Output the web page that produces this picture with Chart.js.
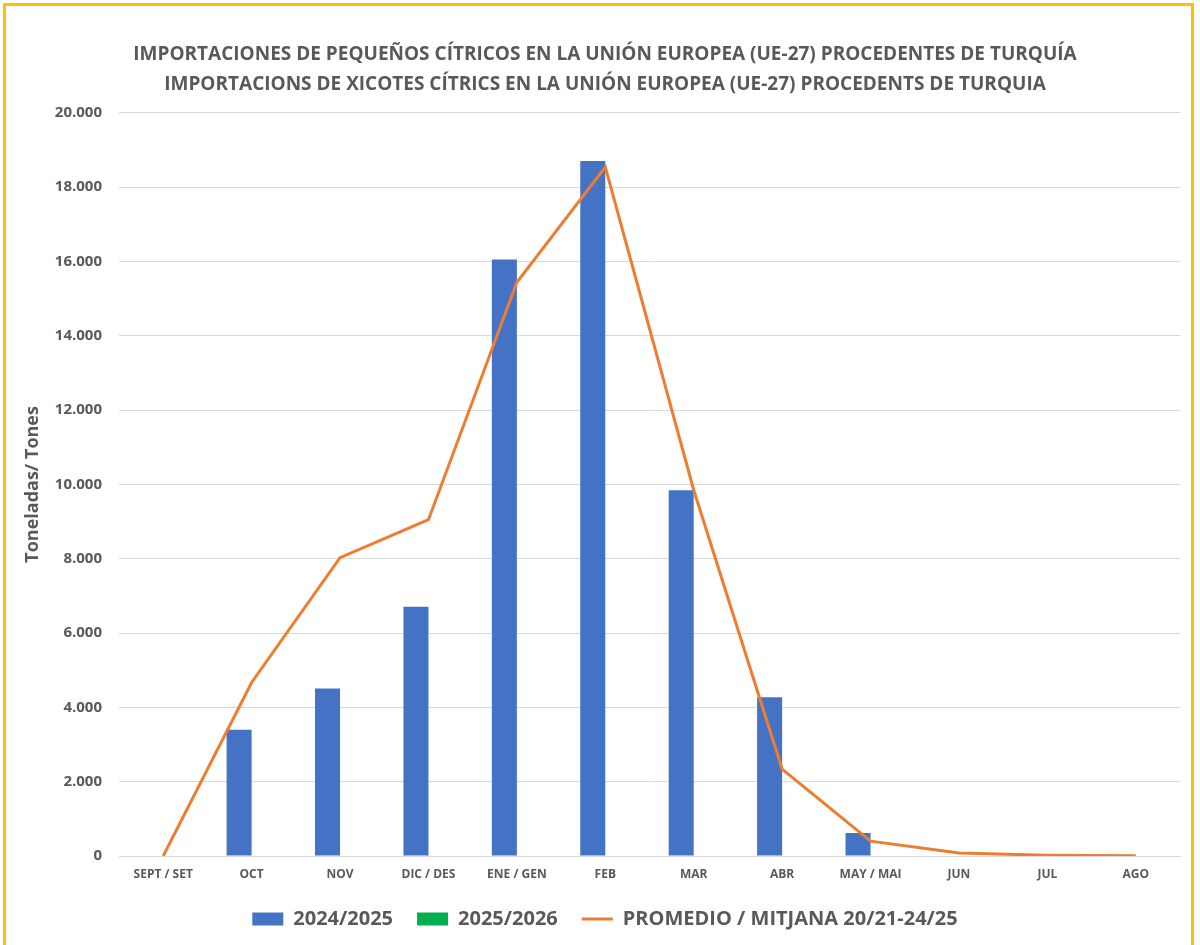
<!DOCTYPE html>
<html>
<head>
<meta charset="utf-8">
<script src="https://cdn.jsdelivr.net/npm/chart.js@4/dist/chart.umd.min.js"></script>
<style>
  body { margin: 0; background: #fff; }
  #frame { position: absolute; left: 3px; top: 3px; width: 1191px; height: 950px; border: 3px solid #FFC000; box-sizing: border-box; }
  #wrap { position: absolute; left: 0; top: 0; width: 1200px; height: 945px; }
</style>
</head>
<body>
<div id="frame"></div>
<div id="wrap"><canvas id="chart" width="1200" height="945"></canvas></div>
<script>
const months = ["SEPT / SET", "OCT", "NOV", "DIC / DES", "ENE / GEN", "FEB", "MAR", "ABR", "MAY / MAI", "JUN", "JUL", "AGO"];
const season2425 = [null, 3400, 4510, 6710, 16050, 18700, 9840, 4270, 620, null, null, null];
const season2526 = [null, null, null, null, null, null, null, null, null, null, null, null];
const average = [0, 4670, 8030, 9050, 15440, 18540, 9850, 2340, 400, 80, 20, 10];

const FONT = "'Open Sans', sans-serif";
const GREY = "#595959";

function fmt(v) {
  return String(v).replace(/\B(?=(\d{3})+(?!\d))/g, ".");
}

new Chart(document.getElementById("chart"), {
  type: 'bar',
  data: {
    labels: months,
    datasets: [
      {
        label: "2024/2025",
        backgroundColor: "#4472C4",
        data: season2425,
        order: 1
      }, {
        label: "2025/2026",
        backgroundColor: "#00B050",
        data: season2526,
        order: 1
      }, {
        type: 'line',
        label: "PROMEDIO / MITJANA 20/21-24/25",
        borderColor: "#ED7D31",
        backgroundColor: "#ED7D31",
        borderWidth: 3,
        pointRadius: 0,
        tension: 0,
        data: average,
        order: 0
      }
    ]
  },
  options: {
    responsive: false,
    animation: false,
    categoryPercentage: 0.566,
    barPercentage: 1.0,
    layout: { padding: { top: 12, left: 30, right: 20, bottom: 6 } },
    plugins: {
      tooltip: { enabled: false },
      title: {
        display: true,
        text: ["IMPORTACIONES DE PEQUEÑOS CÍTRICOS EN LA UNIÓN EUROPEA (UE-27) PROCEDENTES DE TURQUÍA",
               "IMPORTACIONS DE XICOTES CÍTRICS EN LA UNIÓN EUROPEA (UE-27) PROCEDENTS DE TURQUIA"],
        color: GREY,
        font: { family: FONT, size: 19, weight: 'bold', lineHeight: 1.6 },
        padding: { top: 27, bottom: 13 }
      },
      legend: {
        position: 'bottom',
        labels: {
          color: GREY,
          font: { family: FONT, size: 20, weight: 'bold' },
          usePointStyle: true,
          pointStyleWidth: 31,
          boxHeight: 13,
          padding: 24,
          sort: (a, b) => a.datasetIndex - b.datasetIndex,
          generateLabels: (chart) => {
            const items = Chart.defaults.plugins.legend.labels.generateLabels(chart);
            items.forEach(it => {
              if (it.datasetIndex === 2) {
                it.pointStyle = 'line';
                it.lineWidth = 3;
                it.strokeStyle = "#ED7D31";
              } else {
                it.pointStyle = 'rect';
                it.lineWidth = 0;
              }
            });
            return items;
          }
        }
      }
    },
    scales: {
      x: {
        afterFit: (s) => { s.height = 29; },
        grid: { display: false, drawTicks: false },
        border: { display: true, color: "#D9D9D9", width: 1 },
        ticks: {
          color: GREY,
          font: { family: FONT, size: 12, weight: 'bold' },
          padding: 11,
          maxRotation: 0,
          autoSkip: false
        }
      },
      y: {
        min: 0,
        max: 20000,
        afterFit: (s) => { s.width = 89; },
        grid: { color: "#D9D9D9", drawTicks: false },
        border: { display: false },
        ticks: {
          stepSize: 2000,
          color: GREY,
          font: { family: FONT, size: 15, weight: 'bold' },
          padding: 17,
          callback: (v) => fmt(v)
        },
        title: {
          display: true,
          text: "Toneladas/ Tones",
          color: GREY,
          font: { family: FONT, size: 18, weight: 'bold' },
          padding: { top: -8, bottom: 4 }
        }
      }
    }
  }
});
</script>
</body>
</html>
